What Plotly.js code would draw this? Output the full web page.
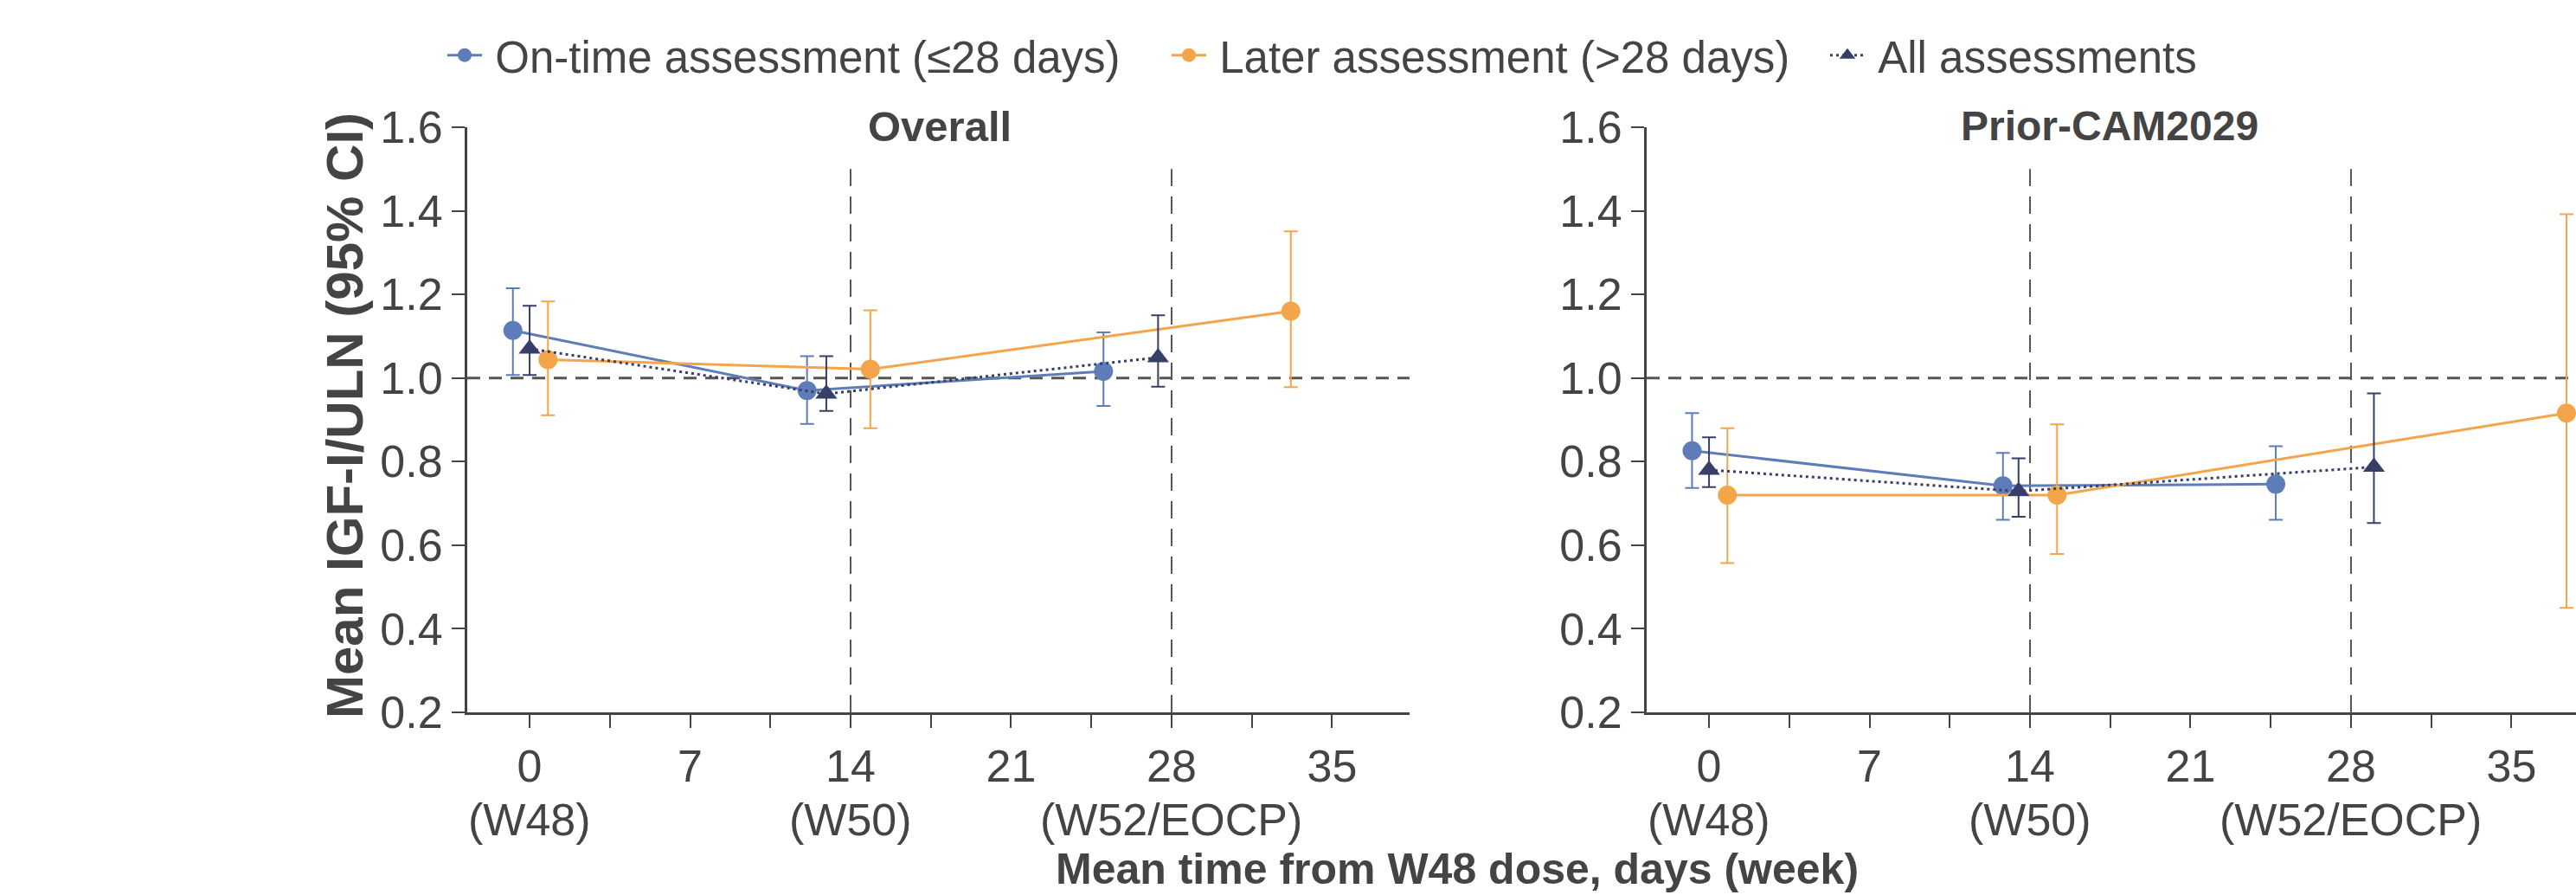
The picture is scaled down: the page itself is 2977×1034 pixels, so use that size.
<!DOCTYPE html>
<html>
<head>
<meta charset="utf-8">
<script src="https://cdn.plot.ly/plotly-3.0.1.min.js"></script>
<style>
html,body{margin:0;padding:0;overflow:hidden;background:#fff;}
#chart{width:3000px;height:1034px;}
</style>
</head>
<body>
<div id="chart"></div>
<script>
// ---------- DATA ----------
const panelTitles = ["Overall", "Prior-CAM2029"];
const seriesNames = ["On-time assessment (\u226428 days)", "Later assessment (>28 days)", "All assessments"];

// Overall panel
const ovOnTimeX    = [-0.73, 12.10, 25.03];
const ovOnTimeMean = [1.114, 0.970, 1.016];
const ovOnTimeLo   = [1.007, 0.890, 0.933];
const ovOnTimeHi   = [1.215, 1.052, 1.109];

const ovLaterX    = [0.80, 14.86, 33.20];
const ovLaterMean = [1.044, 1.021, 1.160];
const ovLaterLo   = [0.911, 0.880, 0.978];
const ovLaterHi   = [1.183, 1.162, 1.351];

const ovAllX    = [0.00, 12.94, 27.41];
const ovAllMean = [1.070, 0.962, 1.049];
const ovAllLo   = [1.007, 0.921, 0.979];
const ovAllHi   = [1.173, 1.052, 1.150];

// Prior-CAM2029 panel
const pcOnTimeX    = [-0.74, 12.82, 24.72];
const pcOnTimeMean = [0.826, 0.742, 0.746];
const pcOnTimeLo   = [0.737, 0.661, 0.661];
const pcOnTimeHi   = [0.916, 0.821, 0.837];

const pcLaterX    = [0.80, 15.18, 37.40];
const pcLaterMean = [0.720, 0.720, 0.916];
const pcLaterLo   = [0.557, 0.579, 0.450];
const pcLaterHi   = [0.880, 0.889, 1.392];

const pcAllX    = [0.00, 13.50, 29.00];
const pcAllMean = [0.780, 0.729, 0.787];
const pcAllLo   = [0.739, 0.668, 0.653];
const pcAllHi   = [0.858, 0.808, 0.963];

// Axis ticks
const xTickVals  = [0, 3.5, 7, 10.5, 14, 17.5, 21, 24.5, 28, 31.5, 35];
const xTickText  = ["0", "", "7", "", "14", "", "21", "", "28", "", "35"];
const weekTickVals = [0, 14, 28];
const weekTickText = ["(W48)", "(W50)", "(W52/EOCP)"];
const yTickVals  = [0.2, 0.4, 0.6, 0.8, 1.0, 1.2, 1.4, 1.6];
const refLinesX  = [14, 28];
const refLineY   = 1.0;

const xAxisTitle = "Mean time from W48 dose, days (week)";
const yAxisTitle = "Mean IGF-I/ULN (95% CI)";

// ---------- STYLE ----------
const W = 3000, H = 1034;
const BLUE = "#5e7db8", ORANGE = "#f4a549", NAVY = "#373f68", TXT = "#444444", AX = "#444444";
const FONT = "Liberation Sans, Arial, sans-serif";
const px = (v) => v / W;
const py = (v) => 1 - v / H;
const legendIds = ["legend", "legend2", "legend3"];
const legendLeft = [512, 1349, 2110];

function trace(x, m, lo, hi, color, dash, symbol, xa, ya, k, showleg) {
  return {
    type: "scatter", mode: "lines+markers", x: x, y: m,
    xaxis: xa, yaxis: ya, name: "\u2009" + seriesNames[k], showlegend: showleg,
    legend: legendIds[k],
    line: {color: color, width: 3, dash: dash},
    marker: {color: color, size: 22, symbol: symbol},
    error_y: {type: "data", symmetric: false,
      array: hi.map((h, i) => h - m[i]),
      arrayminus: lo.map((l, i) => m[i] - l),
      color: color, thickness: 2, width: 8},
    cliponaxis: false,
    hoverinfo: "x+y"
  };
}

const data = [
  trace(ovOnTimeX, ovOnTimeMean, ovOnTimeLo, ovOnTimeHi, BLUE, "solid", "circle", "x", "y", 0, true),
  trace(ovLaterX, ovLaterMean, ovLaterLo, ovLaterHi, ORANGE, "solid", "circle", "x", "y", 1, true),
  trace(ovAllX, ovAllMean, ovAllLo, ovAllHi, NAVY, "3px,4px", "triangle-up", "x", "y", 2, true),
  trace(pcOnTimeX, pcOnTimeMean, pcOnTimeLo, pcOnTimeHi, BLUE, "solid", "circle", "x2", "y2", 0, false),
  trace(pcLaterX, pcLaterMean, pcLaterLo, pcLaterHi, ORANGE, "solid", "circle", "x2", "y2", 1, false),
  trace(pcAllX, pcAllMean, pcAllLo, pcAllHi, NAVY, "3px,4px", "triangle-up", "x2", "y2", 2, false)
];

const xRange = [-2.72, 38.38];
const yRange = [0.2, 1.6];

function xaxis(domain) {
  return {
    domain: domain, range: xRange, showgrid: false, zeroline: false,
    showline: true, linecolor: AX, linewidth: 3,
    ticks: "outside", ticklen: 15, tickwidth: 2, tickcolor: AX,
    tickmode: "array", tickvals: xTickVals, ticktext: xTickText,
    tickfont: {family: FONT, size: 52, color: TXT},
    fixedrange: true
  };
}
function yaxis(anchor) {
  return {
    domain: [py(823), py(147)], range: yRange, anchor: anchor,
    showgrid: false, zeroline: false,
    showline: true, linecolor: AX, linewidth: 3,
    ticks: "outside", ticklen: 15, tickwidth: 2, tickcolor: AX,
    tickmode: "array", tickvals: yTickVals, tickformat: ".1f",
    tickfont: {family: FONT, size: 52, color: TXT},
    fixedrange: true
  };
}

const shapes = [];
[["x", "y"], ["x2", "y2"]].forEach(([xa, ya]) => {
  shapes.push({type: "line", xref: xa + " domain", yref: ya, x0: 0, x1: 1, y0: refLineY, y1: refLineY,
    line: {color: "#555555", width: 3, dash: "15px,10px"}, layer: "below"});
  refLinesX.forEach(v => {
    shapes.push({type: "line", xref: xa, yref: ya, x0: v, x1: v, y0: yRange[0], y1: 1.5,
      line: {color: "#555555", width: 2, dash: "20px,12px"}, layer: "below"});
  });
});

const annotations = [
  {text: "<b>" + panelTitles[0] + "</b>", xref: "paper", yref: "paper", x: px(1086), y: py(146),
   xanchor: "center", yanchor: "middle", showarrow: false, font: {family: FONT, size: 49, color: TXT}},
  {text: "<b>" + panelTitles[1] + "</b>", xref: "paper", yref: "paper", x: px(2438), y: py(146),
   xanchor: "center", yanchor: "middle", showarrow: false, font: {family: FONT, size: 48, color: TXT}},
  {text: "<b>" + yAxisTitle + "</b>", xref: "paper", yref: "paper", x: px(399), y: py(480),
   xanchor: "center", yanchor: "middle", textangle: -90, showarrow: false, font: {family: FONT, size: 60, color: TXT}},
  {text: "<b>" + xAxisTitle + "</b>", xref: "paper", yref: "paper", x: px(1684), y: py(1004),
   xanchor: "center", yanchor: "middle", showarrow: false, font: {family: FONT, size: 50, color: TXT}}
];
["x", "x2"].forEach(xa => {
  weekTickVals.forEach((v, i) => {
    annotations.push({text: weekTickText[i], xref: xa, yref: "paper", x: v, y: py(947),
      xanchor: "center", yanchor: "middle", showarrow: false, font: {family: FONT, size: 52, color: TXT}});
  });
});

const layout = {
  width: W, height: H,
  margin: {l: 0, r: 0, t: 0, b: 0, pad: 0},
  paper_bgcolor: "#ffffff", plot_bgcolor: "#ffffff",
  font: {family: FONT, color: TXT},
  showlegend: true,
  xaxis: Object.assign(xaxis([px(540), px(1629)]), {anchor: "y"}),
  yaxis: yaxis("x"),
  xaxis2: Object.assign(xaxis([px(1903), px(2992)]), {anchor: "y2"}),
  yaxis2: yaxis("x2"),
  shapes: shapes,
  annotations: annotations
};
legendIds.forEach((id, k) => {
  layout[id] = {orientation: "h", x: px(legendLeft[k]), xanchor: "left", y: py(64), yanchor: "middle",
    font: {family: FONT, size: 51, color: TXT}, itemwidth: 40, bgcolor: "rgba(0,0,0,0)", borderwidth: 0};
});

Plotly.newPlot("chart", data, layout, {displayModeBar: false, staticPlot: true}).then(gd => {
  // enlarge legend marker symbols to match the plotted markers
  gd.querySelectorAll(".legendpoints .scatterpts path").forEach(p => {
    const t = p.getAttribute("transform") || "";
    p.setAttribute("transform", t + " scale(1.35)");
  });
});
</script>
</body>
</html>
